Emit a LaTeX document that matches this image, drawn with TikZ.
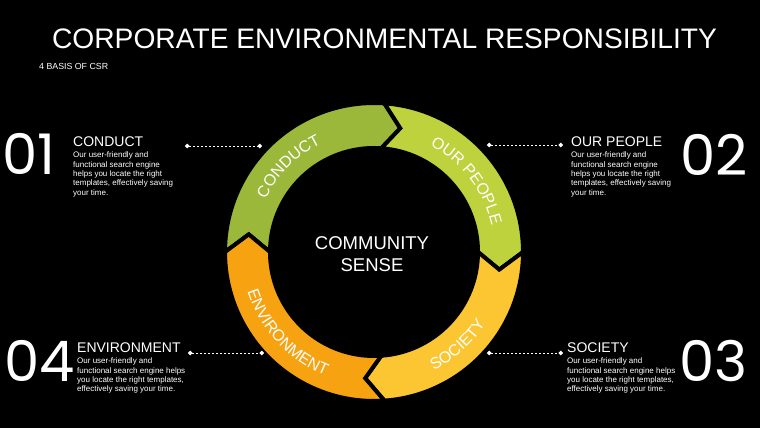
\documentclass[tikz,border=0pt]{standalone}
\usepackage{fontspec}
\setmainfont{Liberation Sans}
\newfontfamily\numfont{Poppins}
\usetikzlibrary{positioning,decorations.text,arrows.meta}
\definecolor{conduct}{HTML}{9CB83A}
\definecolor{people}{HTML}{BDD23D}
\definecolor{society}{HTML}{FBC631}
\definecolor{environment}{HTML}{F7A210}
\newcommand{\fsz}[2]{\fontsize{#1}{#2}\selectfont}

\begin{document}
\begin{tikzpicture}[x=1pt,y=1pt,
  every node/.style={text=white, inner sep=0pt},
  number/.style={font=\numfont\fsz{56}{56}},
  heading/.style={font=\fsz{14}{14}},
  body/.style={font=\fsz{8}{9.4}, align=left},
  link/.style={white, line width=0.8pt, dash pattern=on 2.4pt off 1.6pt,
    {Circle[length=4.4pt]}-{Circle[length=4.4pt]}},
  ringlabel/.style={decorate, decoration={text along path, text align=center,
    text color=white, text={|\fsz{16}{16}|#1}}}]
\fill[black] (0,0) rectangle (760,428);
\useasboundingbox (0,0) rectangle (760,428);

\node[font=\fsz{28.2}{30}] (title) at (384.5,389) {CORPORATE ENVIRONMENTAL RESPONSIBILITY};
\node[font=\fsz{8.8}{10}, anchor=west] (subtitle) at (39,361.5) {4 BASIS OF CSR};

% ring of four arrows
\begin{scope}[shift={(374,176)}]
\foreach \t/\h/\c in {180/86/conduct, 86/0/people, 0/-86/society, 274/180/environment}
  \filldraw[fill=\c, draw=black, line width=4pt, line join=miter]
    (\t:149pt) arc[start angle=\t, end angle=\h, radius=149pt]
    -- ({\h-8}:126.5pt) -- (\h:104pt)
    arc[start angle=\h, end angle=\t, radius=104pt]
    -- ({\t-8}:126.5pt) -- cycle;
\path[ringlabel=CONDUCT] (160:120.5pt) arc[start angle=160, end angle=110, radius=120.5pt];
\path[ringlabel=OUR PEOPLE] (65:120.5pt) arc[start angle=65, end angle=10, radius=120.5pt];
\path[ringlabel=SOCIETY] (-75:132.5pt) arc[start angle=-75, end angle=-21, radius=132.5pt];
\path[ringlabel=ENVIRONMENT] (195:132.5pt) arc[start angle=195, end angle=251, radius=132.5pt];
\end{scope}
\node[font=\fsz{18.5}{21.5}, align=center] (sense) at (372,174) {COMMUNITY\\SENSE};

% the four corner blocks
\node[number, anchor=west] (n1) at (2,274) {01};
\node[heading, anchor=west] (h1) at (73,286) {CONDUCT};
\node[body, below=4.5pt of h1.south west, anchor=north west] (b1)
  {Our user-friendly and\\functional search engine\\helps you locate the right\\templates, effectively saving\\your time.};

\node[number, anchor=east] (n2) at (748,273) {02};
\node[heading, anchor=west] (h2) at (571,286) {OUR PEOPLE};
\node[body, below=4.5pt of h2.south west, anchor=north west] (b2)
  {Our user-friendly and\\functional search engine\\helps you locate the right\\templates, effectively saving\\your time.};

\node[number, anchor=east] (n3) at (748,67) {03};
\node[heading, anchor=west] (h3) at (567,80) {SOCIETY};
\node[body, below=4.5pt of h3.south west, anchor=north west] (b3)
  {Our user-friendly and\\functional search engine helps\\you locate the right templates,\\effectively saving your time.};

\node[number, anchor=west] (n4) at (4,67) {04};
\node[heading, anchor=west] (h4) at (77,80) {ENVIRONMENT};
\node[body, below=4.5pt of h4.south west, anchor=north west] (b4)
  {Our user-friendly and\\functional search engine helps\\you locate the right templates,\\effectively saving your time.};

% dotted leaders
\coordinate (l1) at (185,282); \coordinate (r1) at (262,282);
\coordinate (l2) at (487,283); \coordinate (r2) at (563,283);
\coordinate (l3) at (487,75);  \coordinate (r3) at (563,75);
\coordinate (l4) at (188,75);  \coordinate (r4) at (264,75);
\foreach \i in {1,...,4}
  \draw[link] (l\i) -- (r\i);
\end{tikzpicture}
\end{document}
